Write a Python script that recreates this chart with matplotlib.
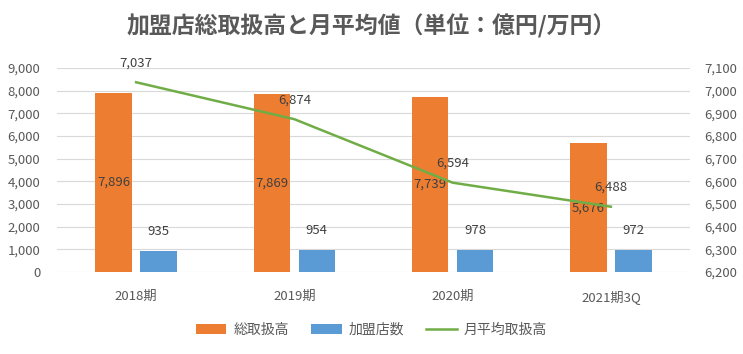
import numpy as np
import matplotlib
matplotlib.use("Agg")
import matplotlib.pyplot as plt
from matplotlib.ticker import FuncFormatter

plt.rcParams['font.family'] = ['Noto Sans CJK JP', 'DejaVu Sans']

categories = ['2018期', '2019期', '2020期', '2021期3Q']
total = [7896, 7869, 7739, 5676]        # 総取扱高 (億円)
stores = [935, 954, 978, 972]           # 加盟店数
monthly = [7037, 6874, 6594, 6488]      # 月平均取扱高 (万円)

orange = '#ED7D31'
blue = '#5B9BD5'
green = '#70AD47'
gray = '#595959'

fig = plt.figure(figsize=(7.43, 3.54), dpi=100)
ax = fig.add_axes([0.0767, 0.2316, 0.852, 0.5764])
ax2 = ax.twinx()

x = np.arange(len(categories))
w = 0.23
off = 0.142

b1 = ax.bar(x - off, total, w, color=orange, label='総取扱高', zorder=2)
b2 = ax.bar(x + off, stores, w, color=blue, label='加盟店数', zorder=2)
l1, = ax2.plot(x, monthly, color=green, lw=1.8, label='月平均取扱高', zorder=3)

ax.set_xlim(-0.5, len(categories) - 0.5)
ax.set_ylim(0, 9000)
ax.set_yticks(range(0, 9001, 1000))
ax2.set_ylim(6200, 7100)
ax2.set_yticks(range(6200, 7101, 100))

fmt = FuncFormatter(lambda v, p: f'{int(v):,}')
ax.yaxis.set_major_formatter(fmt)
ax2.yaxis.set_major_formatter(fmt)

ax.set_xticks(x)
ax.set_xticklabels(categories)
ax.grid(axis='y', color='#D9D9D9', lw=0.8, zorder=0)
ax.set_axisbelow(True)

for a in (ax, ax2):
    for s in a.spines.values():
        s.set_visible(False)
    a.tick_params(length=0, colors=gray, labelsize=9.5)
ax.tick_params(axis='y', pad=12)
ax.tick_params(axis='x', pad=13)
ax2.tick_params(axis='y', pad=10)

# data labels
for xi, v in zip(x, total):
    ax.text(xi - off, v / 2, f'{v:,}', ha='center', va='center', fontsize=9.5, color='#404040', zorder=4)
for xi, v in zip(x, stores):
    ax.annotate(f'{v:,}', (xi + off, v), xytext=(0, 14), textcoords='offset points',
                ha='center', va='center', fontsize=9.5, color='#404040', zorder=4)
for xi, v in zip(x, monthly):
    ax2.annotate(f'{v:,}', (xi, v), xytext=(0, 14), textcoords='offset points',
                 ha='center', va='center', fontsize=9.5, color='#404040', zorder=4)

fig.text(0.5, 0.925, '加盟店総取扱高と月平均値（単位：億円/万円）', ha='center', va='center',
         fontsize=16.5, fontweight='bold', color=gray)

fig.legend(handles=[b1, b2, l1], loc='center', bbox_to_anchor=(0.5, 0.068), ncol=3,
           frameon=False, fontsize=10, labelcolor=gray, handlelength=2.2, columnspacing=1.6,
           handletextpad=0.5)

fig.savefig('out.png', dpi=100)
